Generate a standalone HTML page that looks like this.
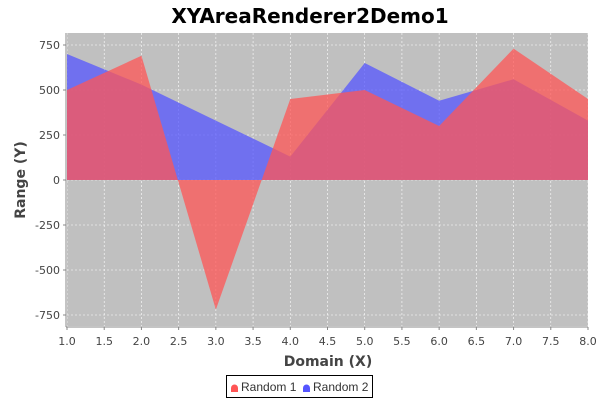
<!DOCTYPE html>
<html><head><meta charset="utf-8"><style>
body{margin:0;background:#fff;}
svg{display:block;font-family:"DejaVu Sans","Liberation Sans",sans-serif;}
</style></head><body>
<svg id="c" width="600" height="400">
<text x="310" y="23" text-anchor="middle" font-size="20" font-weight="bold" font-family="DejaVu Sans, sans-serif">XYAreaRenderer2Demo1</text>
<rect x="67" y="33" width="521" height="293" fill="#c0c0c0"/>
<g id="grid"></g><g id="series"></g><g id="axes"></g>
<text x="328" y="366" text-anchor="middle" font-size="14" font-weight="bold" fill="#444">Domain (X)</text>
<text transform="translate(25,180) rotate(-90)" text-anchor="middle" font-size="14" font-weight="bold" fill="#444">Range (Y)</text>
<g font-family="Liberation Sans, sans-serif">
<rect x="226.5" y="375.5" width="146" height="22" fill="#fff" stroke="#000"/>
<path d="M231 392 v-4 a3.5 3.5 0 0 1 7 0 v4 z" fill="#ff5555"/>
<text x="241" y="391" font-size="12" fill="#333">Random 1</text>
<path d="M303 392 v-4 a3.5 3.5 0 0 1 7 0 v4 z" fill="#5555ff"/>
<text x="313" y="391" font-size="12" fill="#333">Random 2</text>
</g>
</svg>
<script>
const xValues=[1,2,3,4,5,6,7,8];
const random1=[500,690,-720,450,500,300,730,450];
const random2=[700,530,330,130,650,440,560,330];
const xTicks=[1,1.5,2,2.5,3,3.5,4,4.5,5,5.5,6,6.5,7,7.5,8];
const yTicks=[-750,-500,-250,0,250,500,750];
const NS="http://www.w3.org/2000/svg";
const L=67,R=588,T=33,B=326;
const xs=v=>L+(v-1)/7*(R-L);
const ys=v=>180-v*0.18;
function mk(t,a,p){const e=document.createElementNS(NS,t);for(const k in a)e.setAttribute(k,a[k]);p.appendChild(e);return e;}
const grid=document.getElementById('grid'),axes=document.getElementById('axes'),ser=document.getElementById('series');
xTicks.forEach(t=>{
 const g=mk('line',{x1:xs(t),x2:xs(t),y1:T,y2:B,stroke:'#fff','stroke-width':0.6,'stroke-dasharray':'2,2'},grid);
 
 
 const tk=mk('line',{x1:xs(t),x2:xs(t),y1:B+1,y2:B+4,stroke:'#888'},axes);
 
 
 const tx=mk('text',{x:xs(t),y:B+19,'text-anchor':'middle','font-size':11,fill:'#444'},axes);
 tx.textContent=t.toFixed(1);
 
 
});
yTicks.forEach(t=>{
 const g=mk('line',{x1:L,x2:R,y1:ys(t),y2:ys(t),stroke:'#fff','stroke-width':0.6,'stroke-dasharray':'2,2'},grid);
 
 
 const tk=mk('line',{x1:L-4,x2:L-1,y1:ys(t),y2:ys(t),stroke:'#888'},axes);
 
 
 const tx=mk('text',{x:L-7,y:ys(t)+4,'text-anchor':'end','font-size':11,fill:'#444'},axes);
 tx.textContent=t;
 
 
});
const ax=mk('line',{x1:L-1,x2:L-1,y1:T,y2:B+1,stroke:'#888'},axes);


const bx=mk('line',{x1:L-1,x2:R,y1:B+1,y2:B+1,stroke:'#888'},axes);


function area(vals,color,name){
 let d='M'+xs(xValues[0])+','+ys(0);
 vals.forEach((v,i)=>{d+=' L'+xs(xValues[i])+','+ys(v);});
 d+=' L'+xs(xValues[xValues.length-1])+','+ys(0)+' Z';
 const p=mk('path',{d:d,fill:color,'fill-opacity':0.75},ser);
 
 
}
area(random2,'#5555ff','area-random-2');
area(random1,'#ff5555','area-random-1');
</script>
</body></html>
